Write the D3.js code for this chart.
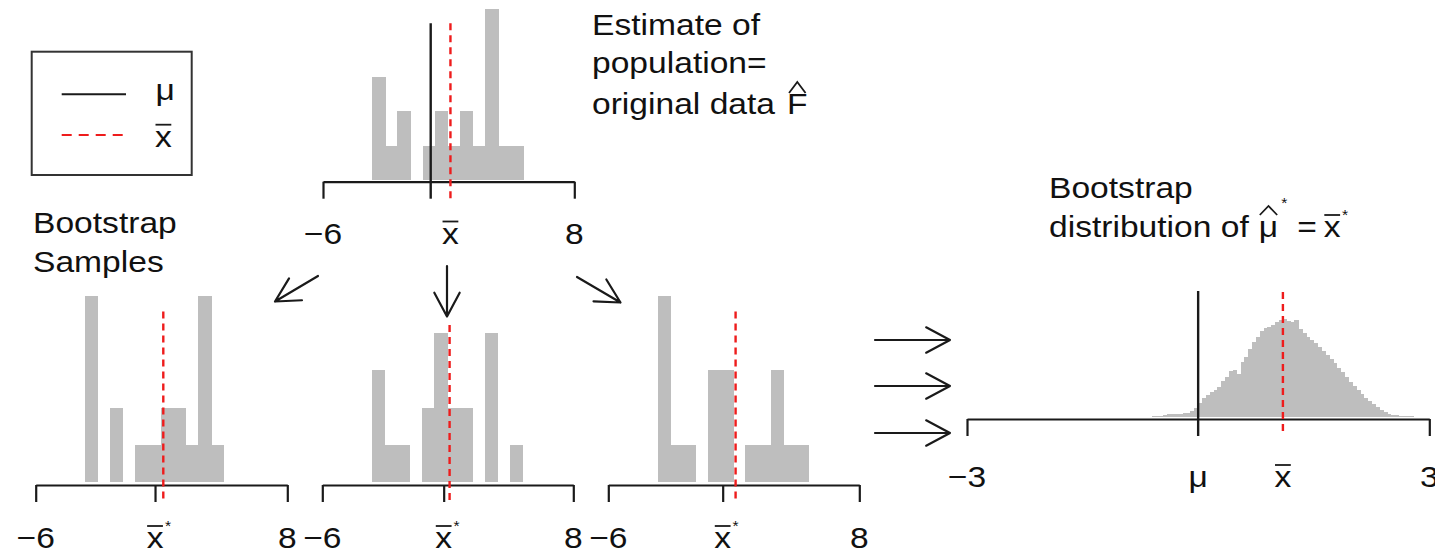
<!DOCTYPE html>
<html><head><meta charset="utf-8">
<script src="https://cdn.jsdelivr.net/npm/d3@7"></script>
<style>
html,body{margin:0;padding:0;background:#fff;}
svg{display:block;}
text{font-family:"Liberation Sans", Arial, Helvetica, sans-serif; fill:#111;}
</style></head><body>
<svg id="chart" width="1435" height="556"></svg>
<script>
// ---------------- DATA ----------------
// histogram bin edges shared by the original data and the bootstrap samples
const breaks = [-3.25, -2.55, -1.85, -1.15, -0.45, 0.25, 0.95, 1.65, 2.35, 3.05, 3.75, 4.45, 5.15];
const originalCounts = [3, 1, 2, 0, 1, 2, 1, 2, 1, 5, 1, 1];
const sample1Counts  = [5, 0, 2, 0, 1, 1, 2, 2, 1, 5, 1, 0];
const sample2Counts  = [3, 1, 1, 0, 2, 4, 2, 2, 0, 4, 0, 1];
const sample3Counts  = [5, 1, 1, 0, 3, 3, 0, 1, 1, 3, 1, 1];
const mu = 0;
const xbar = 1.1;
const xbarStar = [0.64, 0.77, 0.38];
const dataRange = [-6, 8];
const dataTickLabels = ["\u22126", "8"];
const bootRange = [-3, 3];
const bootTickLabels = ["\u22123", "3"];
// bootstrap distribution of the mean (bins of width 0.05 starting at -0.6)
const bootBinStart = -0.6;
const bootBinWidth = 0.05;
const bootCounts = [1,1,1,2,3,3,3,3,4,4, 6,9,14,19,22,25,27,30,36,40,
                    46,47,43,55,60,68,75,80,86,89, 90,92,95,97,98,96,95,97,88,84,
                    80,77,74,70,66,62,58,54,49,45, 40,35,31,27,23,19,16,13,10,7,
                    5,3,2,2,1,1,1,1,0.5,0];

// ---------------- STYLE / LAYOUT ----------------
const INK = "#1a1a1a", RED = "#ee1c1c", BAR = "#bebebe";
const FS = 30, SX = 1.12, TICK = 17;
const svg = d3.select("#chart");

function txt(g, x, y, s, anchor = "start", size = FS) {
  return g.append("text")
    .attr("transform", `translate(${x},${y}) scale(${SX},1)`)
    .attr("text-anchor", anchor)
    .style("font-size", size + "px")
    .text(s);
}
function width(t) { return t.node().getComputedTextLength() * SX; }

function xbarLabel(g, cx, b, star, anchor = "middle") {
  const t = txt(g, cx, b, "x", anchor);
  const w = width(t);
  const x0 = anchor === "middle" ? cx - w / 2 : cx;
  g.append("line").attr("x1", x0 + 0.5).attr("x2", x0 + w - 0.5)
    .attr("y1", b - 22).attr("y2", b - 22).attr("stroke", INK).attr("stroke-width", 1.8);
  if (star) txt(g, x0 + w + 1.5, b - 17, "*", "start", 14);
  return x0 + w;
}
function hat(g, x0, x1, b, top, bottom) {
  g.append("path")
    .attr("d", `M${x0},${b - bottom}L${(x0 + x1) / 2},${b - top}L${x1},${b - bottom}`)
    .attr("fill", "none").attr("stroke", INK).attr("stroke-width", 1.8);
}
function drawAxis(g, x, y, ticks) {
  const a = g.append("g").attr("transform", `translate(0,${y})`)
    .call(d3.axisBottom(x).tickValues(ticks).tickSize(TICK).tickSizeOuter(0).tickFormat(""));
  a.select(".domain").attr("stroke", INK).attr("stroke-width", 2.2);
  a.selectAll(".tick line").attr("stroke", INK).attr("stroke-width", 2.2);
}
function drawHist(g, x, y, edges, counts) {
  const bins = counts.map((c, i) => ({ x0: edges[i], x1: edges[i + 1], c })).filter(d => d.c > 0);
  g.append("g").attr("shape-rendering", "crispEdges")
    .selectAll("rect").data(bins).join("rect")
    .attr("x", d => x(d.x0)).attr("width", d => x(d.x1) - x(d.x0) + 0.6)
    .attr("y", d => y(d.c)).attr("height", d => y(0) - y(d.c))
    .attr("fill", BAR);
}
function vline(g, xp, y1, y2, color, dash) {
  const l = g.append("line").attr("x1", xp).attr("x2", xp).attr("y1", y1).attr("y2", y2)
    .attr("stroke", color).attr("stroke-width", 2.4);
  if (dash) l.attr("stroke-dasharray", dash);
}

// ---------------- TOP PANEL (original data) ----------------
{
  const g = svg.append("g");
  const axisY = 181.7;
  const x = d3.scaleLinear().domain(dataRange).range([323, 574.3]);
  const y = d3.scaleLinear().domain([0, 5]).range([180, 8.5]);
  drawHist(g, x, y, breaks, originalCounts);
  drawAxis(g, x, axisY, dataRange);
  vline(g, x(mu), y(4.57), axisY + TICK, INK, null);
  vline(g, x(xbar), y(4.57), axisY + TICK, RED, "7,5");
  const b = 243.5;
  txt(g, x(dataRange[0]), b, dataTickLabels[0], "middle");
  txt(g, x(dataRange[1]), b, dataTickLabels[1], "middle");
  xbarLabel(g, x(xbar), b, false);
}

// ---------------- BOTTOM PANELS (bootstrap samples) ----------------
const samples = [sample1Counts, sample2Counts, sample3Counts];
const sampleRanges = [[35.7, 287.3], [322.3, 573.3], [608.3, 859.3]];
const refTops = [4.58, 4.22, 4.58];
samples.forEach((counts, i) => {
  const g = svg.append("g");
  const axisY = 485;
  const x = d3.scaleLinear().domain(dataRange).range(sampleRanges[i]);
  const y = d3.scaleLinear().domain([0, 5]).range([482, 296]);
  drawHist(g, x, y, breaks, counts);
  drawAxis(g, x, axisY, [dataRange[0], xbarStar[i], dataRange[1]]);
  vline(g, x(xbar), y(refTops[i]), axisY + TICK, RED, "7,5");
  const b = 548;
  txt(g, x(dataRange[0]), b, dataTickLabels[0], "middle");
  txt(g, x(dataRange[1]), b, dataTickLabels[1], "middle");
  xbarLabel(g, x(xbarStar[i]), b, true);
});

// ---------------- RIGHT PANEL (bootstrap distribution) ----------------
{
  const g = svg.append("g");
  const axisY = 419;
  const x = d3.scaleLinear().domain(bootRange).range([967, 1429.3]);
  const y = d3.scaleLinear().domain([0, 100]).range([417, 317]);
  const edges = d3.range(bootCounts.length + 1).map(i => bootBinStart + i * bootBinWidth);
  drawHist(g, x, y, edges, bootCounts);
  drawAxis(g, x, axisY, bootRange);
  vline(g, x(mu), y(126), axisY + TICK, INK, null);
  vline(g, x(xbar), y(125), axisY + TICK, RED, "7,5");
  const b = 487;
  txt(g, x(bootRange[0]), b, bootTickLabels[0], "middle");
  txt(g, x(bootRange[1]), b, bootTickLabels[1], "middle");
  txt(g, x(mu), b, "\u03bc", "middle");
  xbarLabel(g, x(xbar), b, false);
}

// ---------------- LEGEND ----------------
{
  const g = svg.append("g");
  g.append("rect").attr("x", 31.7).attr("y", 51.7).attr("width", 160).attr("height", 123.3)
    .attr("fill", "none").attr("stroke", "#333").attr("stroke-width", 2);
  g.append("line").attr("x1", 61.7).attr("x2", 126).attr("y1", 94.3).attr("y2", 94.3)
    .attr("stroke", INK).attr("stroke-width", 2);
  g.append("line").attr("x1", 61.7).attr("x2", 126).attr("y1", 135).attr("y2", 135)
    .attr("stroke", RED).attr("stroke-width", 2.2).attr("stroke-dasharray", "10,7");
  txt(g, 155.5, 100, "\u03bc");
  xbarLabel(g, 155, 146.7, false, "start");
}

// ---------------- ANNOTATION TEXT ----------------
{
  const g = svg.append("g");
  txt(g, 33, 233, "Bootstrap");
  txt(g, 33, 272, "Samples");
  txt(g, 592, 35, "Estimate of");
  txt(g, 592, 73, "population=");
  const t = txt(g, 592, 114, "original data");
  const fx = 592 + width(t) + 12;
  const f = txt(g, fx, 114, "F");
  hat(g, fx + 2, fx + width(f) - 2, 114, 32, 21);

  txt(g, 1049, 198, "Bootstrap");
  const b = 237;
  const d = txt(g, 1049, b, "distribution of");
  const mx = 1049 + width(d) + 10;
  const m = txt(g, mx, b, "\u03bc");
  const mw = width(m);
  hat(g, mx + 1, mx + mw - 1, b, 31, 22);
  txt(g, mx + mw + 3, b - 29, "*", "start", 14);
  const e = txt(g, mx + mw + 19, b, "=");
  xbarLabel(g, mx + mw + 19 + width(e) + 7, b, true, "start");
}

// ---------------- ARROWS ----------------
const arrows = [
  [318, 276, 275, 301.5],
  [447, 266, 447, 316.5],
  [577, 277, 620.5, 302.5],
  [875, 340, 950, 340],
  [875, 386, 950, 386],
  [875, 433, 950, 433]
];
{
  const g = svg.append("g").attr("stroke", INK).attr("stroke-width", 2.2).attr("fill", "none")
    .attr("stroke-linecap", "round").attr("stroke-linejoin", "round");
  const L = 27, A = 28 * Math.PI / 180;
  arrows.forEach(([x1, y1, x2, y2]) => {
    const ang = Math.atan2(y2 - y1, x2 - x1);
    const p1 = [x2 - L * Math.cos(ang - A), y2 - L * Math.sin(ang - A)];
    const p2 = [x2 - L * Math.cos(ang + A), y2 - L * Math.sin(ang + A)];
    g.append("path").attr("d", `M${x1},${y1}L${x2},${y2}M${p1[0]},${p1[1]}L${x2},${y2}L${p2[0]},${p2[1]}`);
  });
}
</script>
</body></html>
